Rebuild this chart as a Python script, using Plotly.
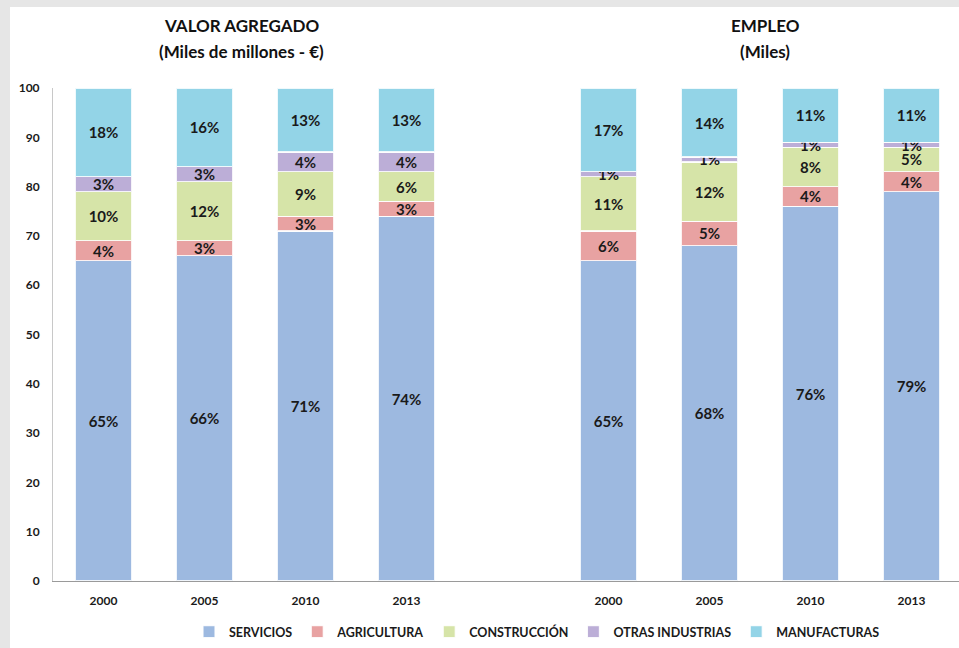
import plotly.graph_objects as go

# x slots: 4 years of VALOR AGREGADO, one empty slot, 4 years of EMPLEO
X_POS = [0, 1, 2, 3, 5, 6, 7, 8]
YEARS = ["2000", "2005", "2010", "2013", "2000", "2005", "2010", "2013"]

SERIES = ["SERVICIOS", "AGRICULTURA", "CONSTRUCCIÓN", "OTRAS INDUSTRIAS", "MANUFACTURAS"]
servicios = [65, 66, 71, 74, 65, 68, 76, 79]
agricultura = [4, 3, 3, 3, 6, 5, 4, 4]
construccion = [10, 12, 9, 6, 11, 12, 8, 5]
otras = [3, 3, 4, 4, 1, 1, 1, 1]
manufacturas = [18, 16, 13, 13, 17, 14, 11, 11]
VALUES = [servicios, agricultura, construccion, otras, manufacturas]

COLORS = ["#9DB9E0", "#E8A2A2", "#D6E4A8", "#BCAED7", "#93D4E7"]
FONT = "Lato"

# plot area in pixels: left 53, bottom 581, height 493
PLOT_H = 493


def py(pixel_y):
    return (581 - pixel_y) / PLOT_H


def px_(pixel_x):
    return (pixel_x - 53) / 906


fig = go.Figure()
for name, vals, color in zip(SERIES, VALUES, COLORS):
    fig.add_bar(
        x=X_POS,
        y=vals,
        name=name,
        marker=dict(color=color, line=dict(color="rgba(255,255,255,0.85)", width=1.2)),
        width=0.56,
        text=[f"{v}%" for v in vals],
        textposition="inside",
        insidetextanchor="middle",
        constraintext="none",
        textfont=dict(family=FONT, size=15, color="#1a1a1a", weight="bold"),
    )

# textured grey frame with white card
fig.add_shape(
    type="rect", xref="paper", yref="paper",
    x0=px_(10), x1=1.05, y0=-0.2, y1=py(7),
    fillcolor="white", line=dict(width=0), layer="below",
)

titles = [
    ("VALOR AGREGADO", 241, 25),
    ("(Miles de millones - €)", 241, 52),
    ("EMPLEO", 765, 25),
    ("(Miles)", 765, 51),
]
for txt, tx, ty in titles:
    fig.add_annotation(
        text=f"<b>{txt}</b>",
        xref="paper", yref="paper", x=px_(tx), y=py(ty),
        xanchor="center", yanchor="middle", showarrow=False,
        font=dict(family=FONT, size=17, color="#111111"),
    )

fig.update_layout(
    width=959,
    height=648,
    barmode="stack",
    paper_bgcolor="#E6E6E6",
    plot_bgcolor="white",
    margin=dict(l=53, r=0, t=88, b=67),
    font=dict(family=FONT, color="#1a1a1a"),
    legend=dict(
        orientation="h", x=px_(537), xanchor="center", y=py(632), yanchor="middle",
        font=dict(family=FONT, size=12.5, weight="bold"), itemwidth=30,
        traceorder="normal", bgcolor="rgba(0,0,0,0)",
    ),
    xaxis=dict(
        range=[-0.5, 8.47],
        tickvals=X_POS,
        ticktext=YEARS,
        showgrid=False,
        showline=True,
        linecolor="#9a9a9a",
        ticks="",
        ticklabelstandoff=9,
        tickfont=dict(family=FONT, size=12, weight="bold", color="#1a1a1a"),
        zeroline=False,
    ),
    yaxis=dict(
        range=[0, 100],
        dtick=10,
        showgrid=False,
        showline=True,
        linecolor="#c8c8c8",
        ticks="",
        ticklabelstandoff=10,
        tickfont=dict(family=FONT, size=12, weight="bold", color="#1a1a1a"),
        zeroline=False,
    ),
)

fig.write_html(
    "out.html",
    config={"displayModeBar": False},
    post_script="document.body.style.margin='0';",
)
